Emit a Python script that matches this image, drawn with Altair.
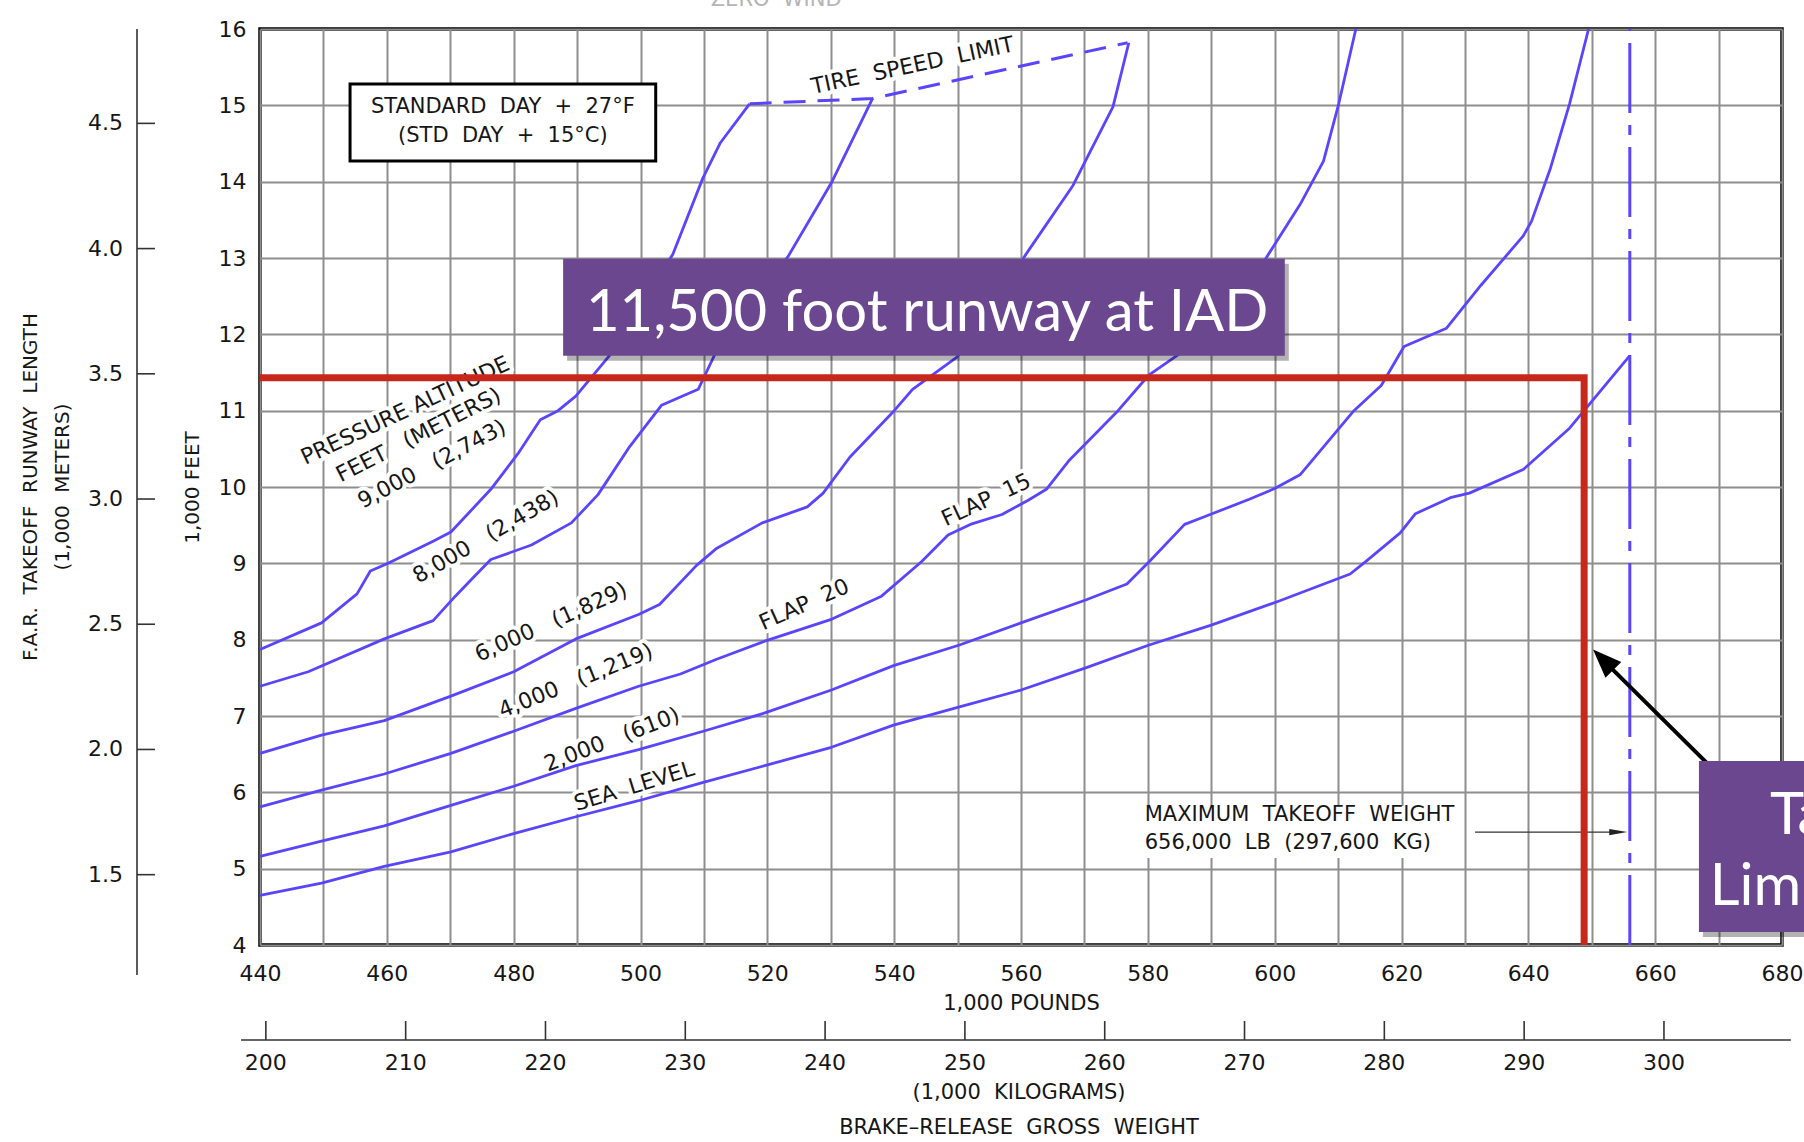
import altair as alt
import pandas as pd

# ---------------- data ----------------
series_names = ["SEA LEVEL", "2,000", "4,000", "6,000", "8,000", "9,000"]

sea_lb = [440, 449.7, 459.6, 470.1, 480, 489.8, 499.7, 509.9, 519.6, 530.1, 539.9, 550.3, 560, 570.2,
          580.2, 590, 600.5, 611.9, 614.3, 619.8, 622.2, 627.7, 630.7, 639.2, 646.5, 656]
sea_kft = [4.65, 4.81, 5.03, 5.22, 5.46, 5.68, 5.89, 6.13, 6.35, 6.59, 6.88, 7.12, 7.34, 7.63,
           7.93, 8.19, 8.50, 8.86, 9.02, 9.40, 9.65, 9.86, 9.92, 10.23, 10.77, 11.72]

a2k_lb = [440, 449.7, 459.6, 470.1, 480, 489.8, 499.7, 509.9, 519.6, 530.1, 539.9, 550.3, 560, 570.2,
          576.7, 580.2, 585.8, 588, 596, 600, 604, 612.5, 616.8, 620.4, 627.1, 632.5, 639.2, 640.5,
          643.5, 646.5, 649.5]
a2k_kft = [5.16, 5.36, 5.56, 5.83, 6.08, 6.35, 6.56, 6.80, 7.04, 7.34, 7.66, 7.93, 8.22, 8.52,
           8.73, 9.02, 9.51, 9.58, 9.84, 9.98, 10.16, 11.0, 11.33, 11.84, 12.08, 12.64, 13.29, 13.48,
           14.18, 15.02, 16.0]

a4k_lb = [440, 449.7, 459.6, 470.1, 480, 489.8, 499.7, 506.3, 511.9, 519.6, 530.2, 538, 544.3, 548.5,
          552, 557, 561.2, 564, 567.5, 575.3, 580.2, 585.1, 590.7, 597.5, 604, 607.7, 610.1, 612.8]
a4k_kft = [5.81, 6.03, 6.24, 6.51, 6.80, 7.10, 7.39, 7.55, 7.74, 7.98, 8.27, 8.57, 9.02, 9.37,
           9.51, 9.64, 9.83, 9.97, 10.34, 11.0, 11.47, 11.75, 11.89, 12.85, 13.70, 14.27, 15.02, 16.0]

a6k_lb = [440, 449.7, 459.6, 470.1, 480, 489.8, 499.7, 503, 508.8, 511.9, 519.2, 526.3, 528.8, 533,
          540, 542.9, 549.9, 561.2, 568.2, 574.5, 577]
a6k_kft = [6.51, 6.75, 6.94, 7.26, 7.58, 8.01, 8.33, 8.46, 8.97, 9.19, 9.53, 9.74, 9.92, 10.39,
           11.0, 11.28, 11.70, 13.10, 13.95, 14.98, 15.82]

a8k_lb = [440, 447.6, 459.6, 467.3, 470.8, 473.6, 476.4, 482.8, 489.1, 493.3, 498.3, 503.3, 509.1,
          512.6, 523.2, 530.2, 536.6]
a8k_kft = [7.39, 7.58, 8.01, 8.25, 8.57, 8.81, 9.05, 9.24, 9.53, 9.90, 10.53, 11.07, 11.28,
           11.89, 13.01, 14.0, 15.09]

a9k_lb = [440, 449.7, 455.3, 457.4, 460.2, 467.3, 470.1, 476.4, 480.7, 484.2, 487, 489.8, 495.4,
          505.1, 509.8, 512.6, 517.2]
a9k_kft = [7.87, 8.22, 8.60, 8.90, 9.00, 9.29, 9.41, 9.97, 10.44, 10.88, 11.0, 11.19, 11.75,
           13.05, 14.04, 14.51, 15.02]

tire_lb = [517.2, 536.6, 576.8]
tire_kft = [15.02, 15.09, 15.82]

mtow_lb = 656.0

label_text = ["PRESSURE\u00a0ALTITUDE", "FEET\u00a0\u00a0\u00a0(METERS)", "9,000\u00a0\u00a0\u00a0(2,743)",
              "8,000\u00a0\u00a0\u00a0(2,438)", "6,000\u00a0\u00a0\u00a0(1,829)", "4,000\u00a0\u00a0\u00a0(1,219)",
              "2,000\u00a0\u00a0\u00a0(610)", "SEA\u00a0\u00a0LEVEL", "FLAP\u00a0\u00a020", "FLAP\u00a0\u00a015",
              "TIRE\u00a0\u00a0SPEED\u00a0\u00a0LIMIT"]
label_lb = [462.9, 465.0, 467.1, 475.6, 485.9, 489.8, 495.5, 499.0, 525.8, 554.5, 542.9]
label_kft = [11.0, 10.68, 10.30, 9.35, 8.23, 7.46, 6.69, 6.08, 8.46, 9.83, 15.52]
label_angle = [335, 333, 332, 330, 336, 338, 339, 343, 336, 335, 348]

box_text = ["STANDARD\u00a0\u00a0DAY\u00a0\u00a0+\u00a0\u00a027\u00b0F", "(STD\u00a0\u00a0DAY\u00a0\u00a0+\u00a0\u00a015\u00b0C)"]
box_text_kft = [14.98, 14.60]

mtow_text = ["MAXIMUM\u00a0\u00a0TAKEOFF\u00a0\u00a0WEIGHT", "656,000\u00a0\u00a0LB\u00a0\u00a0(297,600\u00a0\u00a0KG)"]
mtow_text_kft = [5.70, 5.34]

red_lb = [440, 648.8, 648.8]
red_kft = [11.43, 11.43, 4.0]

meter_ticks = [1.5, 2.0, 2.5, 3.0, 3.5, 4.0, 4.5]
kg_ticks = [200, 210, 220, 230, 240, 250, 260, 270, 280, 290, 300]
x_grid = list(range(440, 681, 10))
y_grid = list(range(4, 17))

FT_PER_M = 3.28084
LB_PER_KG = 2.20462

# ---------------- layout / style ----------------
W, H = 1522, 916
BLUE = "#5a45ff"
PURPLE = "#6a478f"
RED = "#c8281c"
INK = "#161616"
CAD = "DejaVu Sans"

XS = alt.Scale(domain=[440, 680], nice=False, zero=False)
YS = alt.Scale(domain=[4, 16], nice=False, zero=False)

XAX = alt.Axis(
    values=x_grid, grid=True, gridColor="#8e8e8e", gridWidth=2, ticks=False, domain=False,
    labelExpr="datum.value % 20 === 0 ? format(datum.value, 'd') : ''",
    labelFont=CAD, labelFontSize=22, labelColor=INK, labelPadding=18, labelFlush=False,
    labelOverlap=False, labelBound=False,
    title="1,000 POUNDS", titleFont=CAD, titleFontSize=21, titleFontWeight="normal", titleColor=INK,
    titleX=W / 2, titleY=58, titleBaseline="middle", titleAlign="center")
YAX = alt.Axis(
    values=y_grid, grid=True, gridColor="#8e8e8e", gridWidth=2, ticks=False, domain=False,
    format="d", labelFont=CAD, labelFontSize=22, labelColor=INK, labelPadding=14, labelFlush=False,
    labelOverlap=False, labelBound=False,
    title="1,000 FEET", titleFont=CAD, titleFontSize=20, titleFontWeight="normal", titleColor=INK,
    titleAngle=270, titleX=-68, titleY=H / 2, titleBaseline="middle", titleAlign="center")


def xf(f):
    return alt.X(f"{f}:Q", scale=XS, axis=XAX)


def yf(f):
    return alt.Y(f"{f}:Q", scale=YS, axis=YAX)


one = pd.DataFrame({"k": [0]})

rows = []
for name, xs, ys in zip(series_names, [sea_lb, a2k_lb, a4k_lb, a6k_lb, a8k_lb, a9k_lb],
                        [sea_kft, a2k_kft, a4k_kft, a6k_kft, a8k_kft, a9k_kft]):
    for i, (a, b) in enumerate(zip(xs, ys)):
        rows.append({"series": name, "lb": a, "kft": b, "ord": i})
curve_df = pd.DataFrame(rows)

# curve labels: a white halo (drawn under the curves, so it only interrupts the grid) and the text
lab_df = pd.DataFrame({"t": label_text, "lb": label_lb, "kft": label_kft, "ang": label_angle})
lab_halo = alt.Chart(lab_df).mark_text(font=CAD, fontSize=22, fill="white", stroke="white", strokeWidth=8,
                                       strokeJoin="round", align="center", baseline="middle").encode(
    x=xf("lb"), y=yf("kft"), text="t:N", angle=alt.Angle("ang:Q", scale=None))
lab_txt = alt.Chart(lab_df).mark_text(font=CAD, fontSize=22, color=INK, align="center",
                                      baseline="middle").encode(
    x=xf("lb"), y=yf("kft"), text="t:N", angle=alt.Angle("ang:Q", scale=None))

curves = alt.Chart(curve_df).mark_line(color=BLUE, strokeWidth=2.8, strokeJoin="round").encode(
    x=xf("lb"), y=yf("kft"), detail="series:N", order="ord:Q")

tire = alt.Chart(pd.DataFrame({"lb": tire_lb, "kft": tire_kft, "ord": range(len(tire_lb))})).mark_line(
    color=BLUE, strokeWidth=3, strokeDash=[22, 12]).encode(x=xf("lb"), y=yf("kft"), order="ord:Q")

mtow_line = alt.Chart(pd.DataFrame({"lb": [mtow_lb], "y0": [4], "y1": [16]})).mark_rule(
    color=BLUE, strokeWidth=3, strokeDash=[70, 12, 10, 12]).encode(x=xf("lb"), y=yf("y0"), y2="y1:Q")

std_box = alt.Chart(pd.DataFrame({"x0": [454.2], "x1": [502.4], "y0": [15.28], "y1": [14.27]})).mark_rect(
    fill="white", stroke="black", strokeWidth=3).encode(x=xf("x0"), x2="x1:Q", y=yf("y0"), y2="y1:Q")
std_txt = alt.Chart(pd.DataFrame({"t": box_text, "lb": [478.3, 478.3], "kft": box_text_kft})).mark_text(
    font=CAD, fontSize=21, color=INK, align="center", baseline="middle").encode(
    x=xf("lb"), y=yf("kft"), text="t:N")

mtow_bg = alt.Chart(pd.DataFrame({"x0": [578.8], "x1": [628.0], "y0": [5.82], "y1": [5.14]})).mark_rect(
    fill="white").encode(x=xf("x0"), x2="x1:Q", y=yf("y0"), y2="y1:Q")
mtow_txt = alt.Chart(pd.DataFrame({"t": mtow_text, "lb": [579.5, 579.5], "kft": mtow_text_kft})).mark_text(
    font=CAD, fontSize=21, color=INK, align="left", baseline="middle").encode(
    x=xf("lb"), y=yf("kft"), text="t:N")
mtow_arrow = alt.Chart(pd.DataFrame({"x0": [631.6], "x1": [653.5], "kft": [5.48]})).mark_rule(
    color="#333333", strokeWidth=1.3).encode(x=xf("x0"), x2="x1:Q", y=yf("kft"))
mtow_head = alt.Chart(pd.DataFrame({"lb": [655.6], "kft": [5.48]})).mark_point(
    shape="M0,0L-0.35,2L0.35,2Z", size=324, filled=True, color="#222222", opacity=1, angle=90).encode(
    x=xf("lb"), y=yf("kft"))

zero_wind = alt.Chart(pd.DataFrame({"t": ["ZERO\u00a0\u00a0WIND"], "lb": [521.4]})).mark_text(
    font=CAD, fontSize=21, color="#b5b5b5", align="center", baseline="alphabetic").encode(
    x=xf("lb"), y=alt.value(-23), text="t:N")

# metric runway-length axis (left)
m_df = pd.DataFrame({"km": meter_ticks, "lab": [f"{v:.1f}" for v in meter_ticks]})
m_df["kft"] = m_df["km"] * FT_PER_M
m_line = alt.Chart(one).mark_rule(color="#333333", strokeWidth=1.6).encode(
    x=alt.value(-123), y=alt.value(0), y2=alt.value(H + 30))
m_ticks = alt.Chart(m_df).mark_rule(color="#333333", strokeWidth=1.6).encode(
    y=yf("kft"), x=alt.value(-123), x2=alt.value(-105))
m_labels = alt.Chart(m_df).mark_text(font=CAD, fontSize=22, color=INK, align="right", baseline="middle").encode(
    y=yf("kft"), x=alt.value(-137), text="lab:N")
m_title = alt.Chart(pd.DataFrame({"t": ["F.A.R.\u00a0\u00a0TAKEOFF\u00a0\u00a0RUNWAY\u00a0\u00a0LENGTH", "(1,000\u00a0\u00a0METERS)"],
                                  "px": [-229, -197]})).mark_text(
    font=CAD, fontSize=20, color=INK, align="center", baseline="middle", angle=270).encode(
    x=alt.X("px:Q", scale=None), y=alt.value(H / 2), text="t:N")

# kilogram weight axis (bottom)
k_df = pd.DataFrame({"kg": kg_ticks, "lab": [str(v) for v in kg_ticks]})
k_df["lb"] = k_df["kg"] * LB_PER_KG
k_line = alt.Chart(pd.DataFrame({"x0": [437.0], "x1": [681.4]})).mark_rule(color="#333333", strokeWidth=1.6).encode(
    x=xf("x0"), x2="x1:Q", y=alt.value(H + 95))
k_ticks = alt.Chart(k_df).mark_rule(color="#333333", strokeWidth=1.6).encode(
    x=xf("lb"), y=alt.value(H + 76), y2=alt.value(H + 95))
k_labels = alt.Chart(k_df).mark_text(font=CAD, fontSize=22, color=INK, align="center", baseline="middle").encode(
    x=xf("lb"), y=alt.value(H + 118), text="lab:N")
k_title = alt.Chart(pd.DataFrame({"t": ["(1,000\u00a0\u00a0KILOGRAMS)", "BRAKE\u2013RELEASE\u00a0\u00a0GROSS\u00a0\u00a0WEIGHT"],
                                  "py": [H + 148, H + 183]})).mark_text(
    font=CAD, fontSize=21, color=INK, align="center", baseline="middle").encode(
    x=alt.value(W / 2 - 2), y=alt.Y("py:Q", scale=None), text="t:N")

# presentation overlays
red = alt.Chart(pd.DataFrame({"lb": red_lb, "kft": red_kft, "ord": [0, 1, 2]})).mark_line(
    color=RED, strokeWidth=7, strokeJoin="miter", strokeCap="butt").encode(
    x=xf("lb"), y=yf("kft"), order="ord:Q")

b1 = pd.DataFrame({"x0": [487.8], "x1": [601.6], "y0": [12.99], "y1": [11.72]})
b1_shadow = alt.Chart(b1).mark_rect(fill="black", opacity=0.3, xOffset=4, x2Offset=4, yOffset=5, y2Offset=5).encode(
    x=xf("x0"), x2="x1:Q", y=yf("y0"), y2="y1:Q")
b1_rect = alt.Chart(b1).mark_rect(fill=PURPLE).encode(x=xf("x0"), x2="x1:Q", y=yf("y0"), y2="y1:Q")
b1_text = alt.Chart(pd.DataFrame({"t": ["11,500 foot runway at IAD"], "lb": [545.2], "kft": [12.26]})).mark_text(
    font="Lato", fontSize=58, color="white", align="center", baseline="middle").encode(
    x=xf("lb"), y=yf("kft"), text="t:N")

arrow = alt.Chart(pd.DataFrame({"x0": [668.1], "x1": [652.8], "y0": [6.39], "y1": [7.65]})).mark_rule(
    color="black", strokeWidth=4).encode(x=xf("x0"), x2="x1:Q", y=yf("y0"), y2="y1:Q")
arrow_head = alt.Chart(pd.DataFrame({"lb": [650.2], "kft": [7.87]})).mark_point(
    shape="M0,0L-0.7,1.8L0.7,1.8Z", size=1024, filled=True, color="black", opacity=1, angle=315).encode(
    x=xf("lb"), y=yf("kft"))

b2 = pd.DataFrame({"x0": [666.9], "x1": [720.0], "y0": [6.41], "y1": [4.17]})
b2_shadow = alt.Chart(b2).mark_rect(fill="black", opacity=0.3, xOffset=4, x2Offset=4, yOffset=5, y2Offset=5).encode(
    x=xf("x0"), x2="x1:Q", y=yf("y0"), y2="y1:Q")
b2_rect = alt.Chart(b2).mark_rect(fill=PURPLE).encode(x=xf("x0"), x2="x1:Q", y=yf("y0"), y2="y1:Q")
b2_text = alt.Chart(pd.DataFrame({"t": ["Takeoff", "Limit"], "lb": [678.1, 668.6], "kft": [5.46, 4.52]})).mark_text(
    font="Lato", fontSize=58, color="white", align="left", baseline="alphabetic").encode(
    x=xf("lb"), y=yf("kft"), text="t:N")

chart = alt.layer(
    lab_halo, curves, tire, mtow_line, std_box, std_txt, mtow_bg, mtow_txt, mtow_arrow, mtow_head,
    lab_txt, zero_wind,
    m_line, m_ticks, m_labels, m_title, k_line, k_ticks, k_labels, k_title,
    red, b1_shadow, b1_rect, b1_text, arrow, arrow_head, b2_shadow, b2_rect, b2_text,
).properties(
    width=W, height=H,
    autosize=alt.AutoSizeParams(type="none"),
    padding={"left": 260, "top": 29, "right": 22, "bottom": 197},
    background="white",
).configure_view(stroke="black", strokeWidth=3.5)

chart.save("out.html", embed_options={"renderer": "svg", "actions": False})
